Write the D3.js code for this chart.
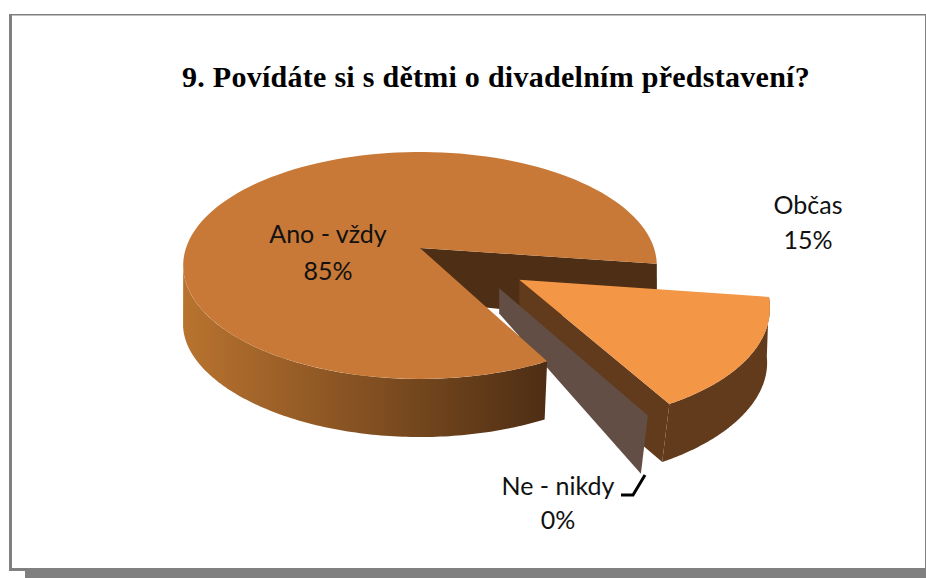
<!DOCTYPE html>
<html>
<head>
<meta charset="utf-8">
<script src="https://cdn.jsdelivr.net/npm/d3@7"></script>
<style>
  html, body { margin: 0; padding: 0; background: #fff; }
  svg { display: block; }
  .label { font-family: Lato, "Noto Sans", sans-serif; font-size: 25px; fill: #111; text-anchor: middle; }
  .title { font-family: "Liberation Serif", serif; font-size: 30px; font-weight: bold; fill: #000; letter-spacing: 0.27px; }
</style>
</head>
<body>
<script>
'use strict';

// chart values
const title = "9. Povídáte si s dětmi o divadelním představení?";
const categories = ["Ano - vždy", "Občas", "Ne - nikdy"];
const percents = [85, 15, 0];
const explodeSize = [0, 0.49, 0.47];     // share of the radius
const explodeAngle = [0, 34, 47];        // degrees, clockwise from the right
const topColors = ["#c87937", "#f39645", "#624e45"];
const wallColors = ["#4e2e14", "#623a1c", "#624e45"];

const width = 926, height = 578;

// perspective of the pie
const cx = 420, cy = 248;
const topR = { x: 234, y: 110.8, kx: 0.154, ky: 0.154, dy: 0 };
const botR = { x: 235, y: 104.8, kx: 0.13, ky: 0.175, dy: 62 };

const svg = d3.select('body').append('svg')
  .attr('width', width)
  .attr('height', height);

// frame with its thick shadow
function drawFrame() {
  const rects = [[9, 14, 3, 554], [9, 14, 917, 1.5], [925, 14, 1, 554], [25, 568, 901, 10], [9, 568, 16, 3]];
  svg.selectAll('rect.frame').data(rects).enter().append('rect')
    .attr('class', 'frame')
    .attr('x', d => d[0]).attr('y', d => d[1])
    .attr('width', d => d[2]).attr('height', d => d[3])
    .attr('fill', '#808080');
}

// disc coordinates to screen, d3 pie angle has 0 at the top
function project(p, layer) {
  return [
    cx + layer.x * p[0] / (1 - layer.kx * p[1]),
    cy + layer.dy + layer.y * p[1] / (1 - layer.ky * p[1])
  ];
}

function onDisc(angle, r, off) {
  return [off[0] + r * Math.sin(angle), off[1] - r * Math.cos(angle)];
}

function offsetOf(i) {
  const a = explodeAngle[i] * Math.PI / 180;
  return [explodeSize[i] * Math.cos(a), explodeSize[i] * Math.sin(a)];
}

function rimPoints(a0, a1, off, layer) {
  return d3.range(0, 121).map(i => project(onDisc(a0 + (a1 - a0) * i / 120, 1, off), layer));
}

const line = d3.line();

const arcs = d3.pie().sort(null).startAngle(152 * Math.PI / 180).endAngle((152 + 360) * Math.PI / 180)(percents);

function topFace(i) {
  const off = offsetOf(i);
  const d = arcs[i];
  return line([project(off, topR)].concat(rimPoints(d.startAngle, d.endAngle, off, topR))) + 'Z';
}

function outerWall(i, a0, a1) {
  const off = offsetOf(i);
  return line(rimPoints(a0, a1, off, topR).concat(rimPoints(a1, a0, off, botR))) + 'Z';
}

// straight cut wall from the apex to the rim
function cutWall(i, angle, innerDepth) {
  const off = offsetOf(i);
  const t0 = project(off, topR), b0 = project(off, botR);
  const t1 = project(onDisc(angle, 1, off), topR), b1 = project(onDisc(angle, 1, off), botR);
  const innerY = t0[1] + (b0[1] - t0[1]) * innerDepth;
  return line([t0, t1, b1, [t0[0], innerY]]) + 'Z';
}

function drawPie() {
  const defs = svg.append('defs');
  const grad = defs.append('linearGradient')
    .attr('id', 'anoWall')
    .attr('gradientUnits', 'userSpaceOnUse')
    .attr('x1', 182).attr('x2', 546).attr('y1', 0).attr('y2', 0);
  grad.append('stop').attr('offset', 0).attr('stop-color', '#b9732f');
  grad.append('stop').attr('offset', 1).attr('stop-color', wallColors[0]);

  const ano = arcs[0], obcas = arcs[1], ne = arcs[2];
  const leftEdge = 261 * Math.PI / 180; // where the wall leaves the side of the disc

  // back to front
  svg.append('path').attr('d', cutWall(0, ano.endAngle, 0.85)).attr('fill', wallColors[0]);
  svg.append('path').attr('d', cutWall(1, obcas.endAngle, 1)).attr('fill', wallColors[1]);
  svg.append('path').attr('d', outerWall(1, obcas.startAngle, obcas.endAngle)).attr('fill', wallColors[1]);
  svg.append('path').attr('d', topFace(1)).attr('fill', topColors[1]);
  svg.append('path').attr('d', cutWall(2, ne.startAngle, 0.42)).attr('fill', wallColors[2]);
  svg.append('path').attr('d', outerWall(0, ano.startAngle, leftEdge)).attr('fill', 'url(#anoWall)');
  svg.append('path').attr('d', topFace(0)).attr('fill', topColors[0]);
}

function drawLabels() {
  svg.append('text').attr('class', 'title').attr('x', 182).attr('y', 87).text(title);

  const pos = [[328, 243, 280], [808, 214, 249], [558, 495, 529]];
  categories.forEach((c, i) => {
    svg.append('text').attr('class', 'label').attr('x', pos[i][0]).attr('y', pos[i][1]).text(c);
    svg.append('text').attr('class', 'label').attr('x', pos[i][0]).attr('y', pos[i][2]).text(percents[i] + '%');
  });

  // leader of the empty slice
  svg.append('path')
    .attr('d', line([[621, 495], [633, 495], [645, 475]]))
    .attr('fill', 'none')
    .attr('stroke', '#000')
    .attr('stroke-width', 3);
}

drawFrame();
drawPie();
drawLabels();
</script>
</body>
</html>
